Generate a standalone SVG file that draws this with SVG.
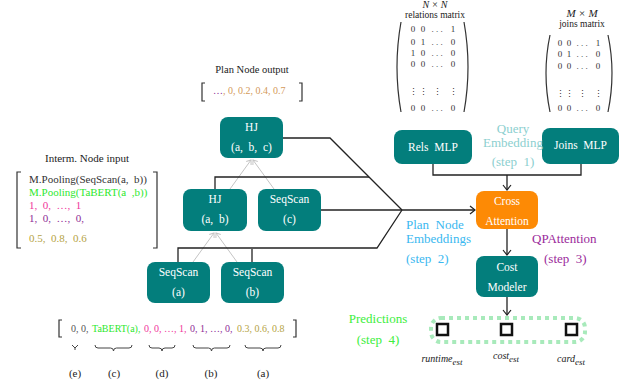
<svg xmlns="http://www.w3.org/2000/svg" width="633" height="387" viewBox="0 0 633 387" font-family="'Liberation Serif', 'DejaVu Serif', serif">
<style>
text{font-family:'Liberation Serif','DejaVu Serif',serif;white-space:pre}
.nt{fill:#ffffff;font-size:11.5px;text-anchor:middle}
.node{fill:#037e7c}
.blk{fill:none;stroke:#222;stroke-width:1.3}
.gry{fill:none;stroke:#c4c4c4;stroke-width:1}
.br{fill:none;stroke:#333;stroke-width:1.2}
.mx{font-size:9px;fill:#333}
.big{font-size:13px}
</style>
<defs>
<marker id="ab" markerUnits="userSpaceOnUse" markerWidth="10" markerHeight="10" refX="0" refY="0" viewBox="-6 -5 8 10" orient="auto" overflow="visible">
<path d="M-5,-4 L0,0 L-5,4" fill="none" stroke="#222" stroke-width="1.2"/>
</marker>
<marker id="ag" markerUnits="userSpaceOnUse" markerWidth="10" markerHeight="10" refX="0" refY="0" viewBox="-6 -5 8 10" orient="auto" overflow="visible">
<path d="M-4,-3 L0,0 L-4,3" fill="none" stroke="#c4c4c4" stroke-width="1"/>
</marker>
</defs>

<!-- connectors -->
<g id="connectors">
<path class="gry" d="M193,262 L214,233" marker-end="url(#ag)"/>
<path class="gry" d="M237,262 L216,233" marker-end="url(#ag)"/>
<path class="gry" d="M230,189 L251,160" marker-end="url(#ag)"/>
<path class="gry" d="M274,189 L253,160" marker-end="url(#ag)"/>
<path class="blk" d="M283,138 H330 L402,210"/>
<path class="blk" d="M215,189 V177 H369"/>
<path class="blk" d="M321,210 H402"/>
<path class="blk" d="M178,262 V248 H377 L402,210"/>
<path class="blk" d="M252,262 V249"/>
<path class="blk" d="M402,210 H475" marker-end="url(#ab)"/>
<path class="blk" d="M433,164 V175 H581 V164"/>
<path class="blk" d="M507,175 V190" marker-end="url(#ab)"/>
<path class="blk" d="M507,229 V255" marker-end="url(#ab)"/>
<path class="blk" d="M507,297 V315" marker-end="url(#ab)"/>
</g>

<!-- plan tree nodes -->
<g id="hj-abc">
<rect class="node" x="220" y="117" width="63" height="41" rx="8"/>
<text class="nt" x="251.5" y="131">HJ</text>
<text class="nt" x="251.5" y="151">(a,  b,  c)</text>
</g>
<g id="hj-ab">
<rect class="node" x="183" y="189" width="64" height="42" rx="8"/>
<text class="nt" x="215" y="203">HJ</text>
<text class="nt" x="215" y="223">(a,  b)</text>
</g>
<g id="seqscan-c">
<rect class="node" x="258" y="189" width="63" height="42" rx="8"/>
<text class="nt" x="289.5" y="203">SeqScan</text>
<text class="nt" x="289.5" y="223">(c)</text>
</g>
<g id="seqscan-a">
<rect class="node" x="147" y="262" width="63" height="41" rx="8"/>
<text class="nt" x="178.5" y="276">SeqScan</text>
<text class="nt" x="178.5" y="296">(a)</text>
</g>
<g id="seqscan-b">
<rect class="node" x="221" y="262" width="63" height="41" rx="8"/>
<text class="nt" x="252.5" y="276">SeqScan</text>
<text class="nt" x="252.5" y="296">(b)</text>
</g>

<!-- right side nodes -->
<g id="rels-mlp">
<rect class="node" x="394" y="130" width="78" height="34" rx="8"/>
<text class="nt" x="433" y="151">Rels  MLP</text>
</g>
<g id="joins-mlp">
<rect class="node" x="542" y="128" width="77" height="36" rx="8"/>
<text class="nt" x="580.5" y="149">Joins  MLP</text>
</g>
<g id="cross-attention">
<rect x="476" y="191" width="62" height="38" rx="8" fill="#fd8a05"/>
<text class="nt" x="507" y="205">Cross</text>
<text class="nt" x="507" y="225">Attention</text>
</g>
<g id="cost-modeler">
<rect class="node" x="476" y="256" width="62" height="41" rx="8"/>
<text class="nt" x="507" y="271">Cost</text>
<text class="nt" x="507" y="291">Modeler</text>
</g>

<!-- labels -->
<g id="query-embedding">
<text class="big" x="513" y="133" text-anchor="middle" fill="#8ccfcf">Query</text>
<text class="big" x="513" y="147" text-anchor="middle" fill="#8ccfcf">Embedding</text>
<text class="big" x="513" y="166" text-anchor="middle" fill="#8ccfcf">(step  1)</text>
</g>
<g id="plan-node-embeddings">
<text class="big" x="406" y="229" fill="#3ab8f0">Plan  Node</text>
<text class="big" x="406" y="243" fill="#3ab8f0">Embeddings</text>
<text class="big" x="406" y="263" fill="#3ab8f0">(step  2)</text>
</g>
<g id="qpattention">
<text class="big" x="532" y="243" fill="#9b2a9b">QPAttention</text>
<text class="big" x="544" y="263" fill="#9b2a9b">(step  3)</text>
</g>
<g id="predictions">
<text class="big" x="378" y="323" text-anchor="middle" fill="#3dee3d">Predictions</text>
<text class="big" x="378" y="344" text-anchor="middle" fill="#3dee3d">(step  4)</text>
<rect x="431" y="318" width="154" height="24" rx="10" fill="none" stroke="#a8eabb" stroke-width="4" stroke-dasharray="4 4"/>
<rect x="437" y="324" width="11" height="11" fill="#fff" stroke="#111" stroke-width="2.5"/>
<rect x="501" y="324" width="11" height="11" fill="#fff" stroke="#111" stroke-width="2.5"/>
<rect x="566" y="324" width="11" height="11" fill="#fff" stroke="#111" stroke-width="2.5"/>
<text x="442" y="362" font-size="10" font-style="italic" text-anchor="middle" fill="#222">runtime<tspan font-size="9" dy="3">est</tspan></text>
<text x="506" y="359" font-size="10" font-style="italic" text-anchor="middle" fill="#222">cost<tspan font-size="9" dy="3">est</tspan></text>
<text x="571" y="362" font-size="10" font-style="italic" text-anchor="middle" fill="#222">card<tspan font-size="9" dy="3">est</tspan></text>
</g>

<!-- matrices -->
<g id="relations-matrix">
<text x="435" y="8" font-size="10" font-style="italic" text-anchor="middle" fill="#222">N × N</text>
<text x="435" y="18" font-size="9.5" text-anchor="middle" fill="#222">relations matrix</text>
<path class="br" d="M401,22 Q393,67 401,112"/>
<path class="br" d="M464,22 Q472,67 464,112"/>
<g class="mx" text-anchor="middle">
<text x="413" y="32">0</text><text x="423" y="32">0</text><text x="437" y="32">. . .</text><text x="453" y="32">1</text>
<text x="413" y="45">0</text><text x="423" y="45">1</text><text x="437" y="45">. . .</text><text x="453" y="45">0</text>
<text x="413" y="56">1</text><text x="423" y="56">0</text><text x="437" y="56">. . .</text><text x="453" y="56">0</text>
<text x="413" y="67">0</text><text x="423" y="67">0</text><text x="437" y="67">. . .</text><text x="453" y="67">0</text>
<text x="413" y="95">⋮</text><text x="423" y="95">⋮</text><text x="437" y="95">⋮</text><text x="453" y="95">⋮</text>
<text x="413" y="111">0</text><text x="423" y="111">0</text><text x="437" y="111">. . .</text><text x="453" y="111">0</text>
</g>
</g>
<g id="joins-matrix">
<text x="582" y="17" font-size="11" font-style="italic" text-anchor="middle" fill="#222">M × M</text>
<text x="582" y="27" font-size="9.5" text-anchor="middle" fill="#222">joins matrix</text>
<path class="br" d="M550,35 Q542,73 550,112"/>
<path class="br" d="M608,35 Q616,73 608,112"/>
<g class="mx" text-anchor="middle">
<text x="560" y="46">0</text><text x="569" y="46">0</text><text x="582" y="46">. . .</text><text x="598" y="46">1</text>
<text x="560" y="57">0</text><text x="569" y="57">1</text><text x="582" y="57">. . .</text><text x="598" y="57">0</text>
<text x="560" y="69">0</text><text x="569" y="69">0</text><text x="582" y="69">. . .</text><text x="598" y="69">0</text>
<text x="560" y="97">⋮</text><text x="569" y="97">⋮</text><text x="582" y="97">⋮</text><text x="598" y="97">⋮</text>
<text x="560" y="111">0</text><text x="569" y="111">0</text><text x="582" y="111">. . .</text><text x="598" y="111">0</text>
</g>
</g>

<!-- plan node output -->
<g id="plan-node-output">
<text x="252" y="73" font-size="10.5" text-anchor="middle" fill="#222">Plan Node output</text>
<path class="br" d="M205,83 H202 V101 H205"/>
<path class="br" d="M299,83 H302 V101 H299"/>
<text x="213" y="94" font-size="10" fill="#d49a5a"><tspan fill="#8e2c95">…</tspan>, 0, 0.2, 0.4, 0.7</text>
</g>

<!-- interm node input -->
<g id="interm-node-input">
<text x="87" y="162" font-size="11" text-anchor="middle" fill="#222">Interm. Node input</text>
<path class="br" d="M21,172 H17 V248 H21"/>
<path class="br" d="M153,172 H157 V248 H153"/>
<text x="29" y="183" font-size="11" fill="#333">M.Pooling(SeqScan(a,  b))</text>
<text x="29" y="196" font-size="11" fill="#2ee82e">M.Pooling(TaBERT(a  ,b))</text>
<text x="29" y="209" font-size="11" fill="#f0359a">1,  0,  …,  1</text>
<text x="29" y="222" font-size="11" fill="#8e2c95">1,  0,  …,  0,</text>
<text x="29" y="242" font-size="11" fill="#b5a344">0.5,  0.8,  0.6</text>
</g>

<!-- bottom feature vector -->
<g id="feature-vector">
<path class="br" d="M62,320 H59 V337 H62"/>
<path class="br" d="M293,320 H296 V337 H293"/>
<text x="71" y="332" font-size="10" fill="#555">0, 0,</text>
<text x="92" y="332" font-size="10" fill="#2ee82e">TaBERT(a),</text>
<text x="144" y="332" font-size="10" fill="#f0359a">0, 0, …, 1,</text>
<text x="190" y="332" font-size="10" fill="#8e2c95">0, 1, …, 0,</text>
<text x="237" y="332" font-size="10" fill="#b5a344">0.3, 0.6, 0.8</text>
<g fill="none" stroke="#444" stroke-width="1">
<path d="M72,345 L75,348 L78,345 M75,348 V350"/>
<path d="M95,345 q0,3 3,3 H110.5 q3,0 3,3 q0,-3 3,-3 H129 q3,0 3,-3"/>
<path d="M149,345 q0,3 3,3 H159 q3,0 3,3 q0,-3 3,-3 H172 q3,0 3,-3"/>
<path d="M193,345 q0,3 3,3 H208.5 q3,0 3,3 q0,-3 3,-3 H227 q3,0 3,-3"/>
<path d="M245,345 q0,3 3,3 H260 q3,0 3,3 q0,-3 3,-3 H278 q3,0 3,-3"/>
</g>
<g font-size="11" fill="#222" text-anchor="middle">
<text x="75" y="377">(e)</text>
<text x="114" y="377">(c)</text>
<text x="162" y="377">(d)</text>
<text x="211" y="377">(b)</text>
<text x="263" y="377">(a)</text>
</g>
</g>
</svg>
